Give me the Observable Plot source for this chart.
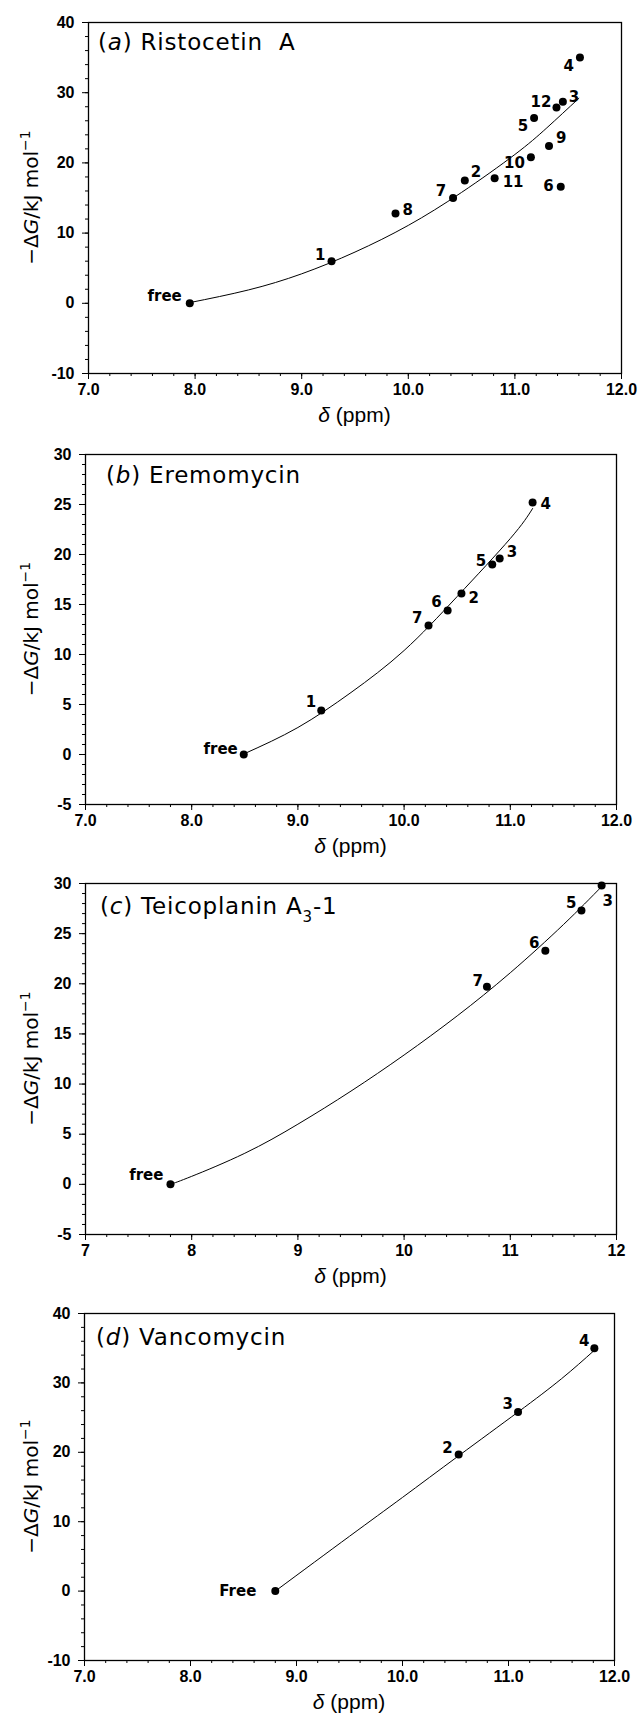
<!DOCTYPE html>
<html><head><meta charset="utf-8">
<script src="https://cdn.jsdelivr.net/npm/d3@7"></script>
<script src="https://cdn.jsdelivr.net/npm/@observablehq/plot@0.6"></script>
<style>
body{margin:0;background:#fff;}
#wrap{position:relative;width:641px;height:1715px;background:#fff;}
.panel{position:absolute;left:0;}
</style></head><body><div id="wrap"></div>
<script>
// ---------- data ----------
// (a) Ristocetin A
const ristoLabels = ["free","1","2","3","4","5","6","7","8","9","10","11","12"];
const ristoShift  = [7.95, 9.28, 10.53, 11.45, 11.61, 11.18, 11.43, 10.42, 9.88, 11.32, 11.15, 10.81, 11.39];
const ristoDG     = [0.0, 6.0, 17.5, 28.7, 35.0, 26.4, 16.6, 15.0, 12.8, 22.4, 20.8, 17.8, 27.9];
const ristoFitShift = [7.95, 8.5, 9.0, 9.5, 10.0, 10.5, 11.0, 11.3, 11.6];
const ristoFitDG    = [0.1, 1.9, 4.2, 7.3, 11.1, 15.8, 21.2, 25.0, 29.2];
// (b) Eremomycin
const eremoLabels = ["free","1","2","3","4","5","6","7"];
const eremoShift  = [8.49, 9.22, 10.54, 10.90, 11.21, 10.83, 10.41, 10.23];
const eremoDG     = [0.0, 4.4, 16.1, 19.6, 25.2, 19.0, 14.4, 12.9];
const eremoFitShift = [8.5, 9.0, 9.5, 10.0, 10.5, 11.0, 11.21];
const eremoFitDG    = [0.1, 2.7, 6.2, 10.4, 15.8, 21.6, 24.6];
// (c) Teicoplanin A3-1
const teicoLabels = ["free","3","5","6","7"];
const teicoShift  = [7.80, 11.86, 11.67, 11.33, 10.78];
const teicoDG     = [0.0, 29.8, 27.3, 23.3, 19.7];
const teicoFitShift = [7.8, 8.0, 8.5, 9.0, 9.5, 10.0, 10.5, 11.0, 11.5, 11.87];
const teicoFitDG    = [0.0, 0.8, 3.1, 6.0, 9.3, 12.9, 16.8, 21.1, 25.9, 29.8];
// (d) Vancomycin
const vancoLabels = ["Free","2","3","4"];
const vancoShift  = [8.80, 10.53, 11.09, 11.81];
const vancoDG     = [0.0, 19.7, 25.8, 35.0];
const vancoFitShift = [8.8, 9.5, 10.0, 10.53, 11.09, 11.5, 11.81];
const vancoFitDG    = [0.0, 7.9, 13.5, 19.5, 25.8, 30.6, 34.7];

// tick labels
const xTicksDec = [7, 8, 9, 10, 11, 12];
const yTicksA = [-10, 0, 10, 20, 30, 40];
const yTicksB = [-5, 0, 5, 10, 15, 20, 25, 30];
const yTicksD = [-10, 0, 10, 20, 30, 40];

// ---------- drawing ----------
const FONT = "DejaVu Sans";
const TICKFONT = "Liberation Sans";
const wrap = document.getElementById("wrap");

// label placement (style): [anchor, dx, dy]
const place = {
  a: {free:["end",-8,-7],"1":["end",-6,-6],"8":["start",7,-3],"7":["end",-7,-7],"2":["start",6,-8],
      "11":["start",8,4],"10":["end",-6,6],"9":["start",7,-8],"6":["end",-7,-1],"5":["end",-6,8],
      "12":["end",-5,-5],"3":["start",6,-5],"4":["end",-6,9]},
  b: {free:["end",-6,-5],"1":["end",-5,-8],"7":["end",-6,-7],"6":["end",-6,-8],"2":["start",7,5],
      "5":["end",-6,-3],"3":["start",7,-6],"4":["start",8,2]},
  c: {free:["end",-7,-9],"7":["end",-4,-6],"6":["end",-6,-8],"5":["end",-5,-7],"3":["middle",6,16]},
  d: {Free:["end",-19,0],"2":["end",-6,-6],"3":["end",-5,-8],"4":["end",-5,-7]}
};

function range(a, b, s) { const r = []; for (let v = a; v <= b + 1e-9; v += s) r.push(Math.round(v * 100) / 100); return r; }

function panel(cfg) {
  const pts = cfg.labels.map((l, i) => ({label: l, x: cfg.xs[i], y: cfg.ys[i]}));
  const fit = cfg.fx.map((x, i) => ({x, y: cfg.fy[i]}));
  const pl = place[cfg.key];
  const textMarks = pts.map(p => {
    const [anchor, dx, dy] = pl[p.label];
    return Plot.text([p], {x: "x", y: "y", text: "label", textAnchor: anchor, dx, dy,
      fontSize: 15, fontWeight: "bold", fill: "black"});
  });
  const svg = Plot.plot({
    width: 641, height: cfg.height,
    marginTop: cfg.m[0], marginRight: cfg.m[1], marginBottom: cfg.m[2], marginLeft: cfg.m[3],
    style: {fontFamily: FONT, fontSize: "15px", background: "white", color: "black"},
    x: {domain: [7, 12]},
    y: {domain: cfg.ydom},
    marks: [
      Plot.axisX({ticks: range(7, 12, 0.2), tickSize: 3, tickFormat: () => "", label: null}),
      Plot.axisX({ticks: xTicksDec, tickSize: 6, tickPadding: 4, tickFormat: cfg.xfmt, label: null,
        fontWeight: "bold", fontSize: 16, fontFamily: TICKFONT}),
      Plot.axisY({ticks: range(cfg.ydom[0], cfg.ydom[1], cfg.yminor), tickSize: 3, tickFormat: () => "", label: null}),
      Plot.axisY({ticks: cfg.yticks, tickSize: 6, tickPadding: 8, tickFormat: d => String(d), label: null,
        fontWeight: "bold", fontSize: 16, fontFamily: TICKFONT}),
      Plot.frame({stroke: "black", strokeWidth: 1.3}),
      Plot.line(fit, {x: "x", y: "y", curve: "natural", stroke: "black", strokeWidth: 1}),
      Plot.dot(pts, {x: "x", y: "y", r: 4, fill: "black"}),
      ...textMarks
    ]
  });
  const s = d3.select(svg);
  const [mt, mr, mb, ml] = cfg.m;
  const fb = cfg.height - mb;
  // title
  const t = s.append("text").attr("x", ml + cfg.tx).attr("y", mt + cfg.ty)
    .attr("font-family", FONT).attr("font-size", 23).attr("letter-spacing", "0.8px")
    .attr("text-anchor", "start").attr("fill", "black");
  t.append("tspan").text("(");
  t.append("tspan").attr("font-style", "italic").text(cfg.letter);
  t.append("tspan").text(") " + cfg.name);
  if (cfg.sub) {
    t.append("tspan").attr("font-size", 15).attr("dy", 8).text(cfg.sub);
    t.append("tspan").attr("dy", -8).text(cfg.after);
  }
  // x label
  const xc = (ml + 641 - mr) / 2;
  const xl = s.append("text").attr("x", xc).attr("y", fb + 49).attr("text-anchor", "middle")
    .attr("font-family", TICKFONT).attr("font-size", 21).attr("fill", "black");
  xl.append("tspan").attr("font-style", "italic").text("δ");
  xl.append("tspan").text(" (ppm)");
  // y label
  const yc = (mt + fb) / 2;
  const yl = s.append("text").attr("transform", `translate(31,${yc}) rotate(-90)`).attr("dy", "0.36em")
    .attr("text-anchor", "middle").attr("font-family", FONT).attr("font-size", 20).attr("fill", "black");
  yl.append("tspan").text("\u2212\u0394");
  yl.append("tspan").attr("font-style", "italic").text("G");
  yl.append("tspan").text("/kJ mol");
  yl.append("tspan").attr("font-size", 14).attr("dy", -8).text("\u22121");

  const div = document.createElement("div");
  div.className = "panel";
  div.style.top = cfg.top + "px";
  div.appendChild(svg);
  wrap.appendChild(div);
}

const fmt1 = d3.format(".1f");
panel({key: "a", top: 0, height: 430, m: [22, 20, 57, 88], ydom: [-10, 40], yticks: yTicksA, yminor: 2,
  xfmt: fmt1, labels: ristoLabels, xs: ristoShift, ys: ristoDG, fx: ristoFitShift, fy: ristoFitDG,
  letter: "a", name: "Ristocetin\u00a0\u00a0A", tx: 10, ty: 28});
panel({key: "b", top: 430, height: 430, m: [24, 25, 56, 85], ydom: [-5, 30], yticks: yTicksB, yminor: 1,
  xfmt: fmt1, labels: eremoLabels, xs: eremoShift, ys: eremoDG, fx: eremoFitShift, fy: eremoFitDG,
  letter: "b", name: "Eremomycin", tx: 21, ty: 29});
panel({key: "c", top: 860, height: 430, m: [23, 25, 56, 85], ydom: [-5, 30], yticks: yTicksB, yminor: 1,
  xfmt: d => String(d), labels: teicoLabels, xs: teicoShift, ys: teicoDG, fx: teicoFitShift, fy: teicoFitDG,
  letter: "c", name: "Teicoplanin A", sub: "3", after: "-1", tx: 15, ty: 31});
panel({key: "d", top: 1290, height: 425, m: [23, 27, 55, 84], ydom: [-10, 40], yticks: yTicksD, yminor: 2,
  xfmt: fmt1, labels: vancoLabels, xs: vancoShift, ys: vancoDG, fx: vancoFitShift, fy: vancoFitDG,
  letter: "d", name: "Vancomycin", tx: 12, ty: 32});
</script></body></html>
